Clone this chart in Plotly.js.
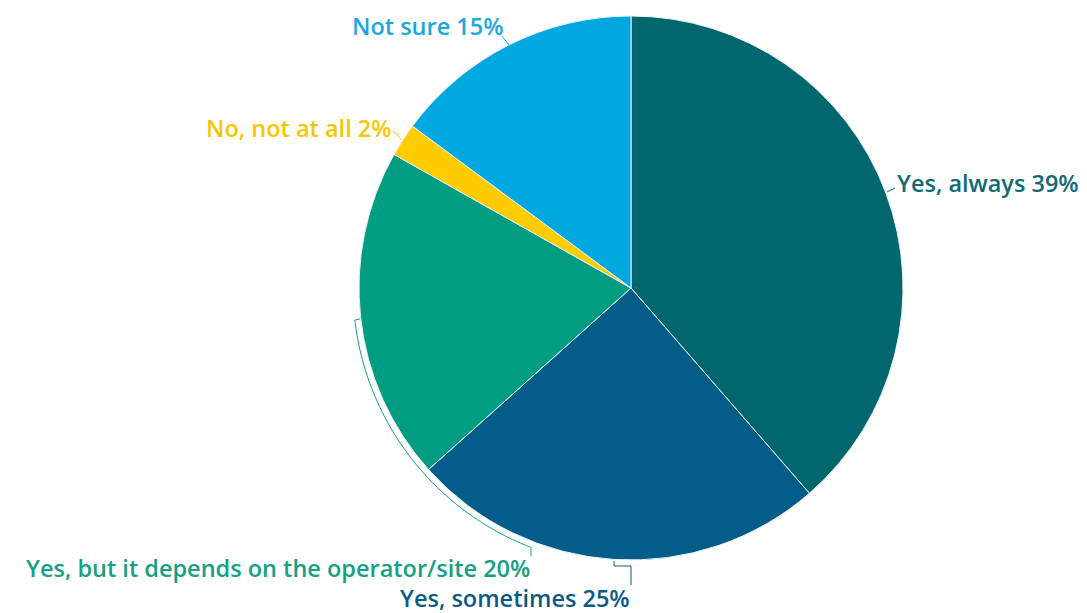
<!DOCTYPE html>
<html><head><meta charset="utf-8">
<script src="https://cdn.plot.ly/plotly-3.0.1.min.js"></script>
<style>html,body{margin:0;padding:0;background:#fff}#chart{width:1087px;height:613px}</style>
</head><body><div id="chart"></div>
<script>
const labels = ["Yes, always", "Yes, sometimes", "Yes, but it depends on the operator/site", "No, not at all", "Not sure"];
const values = [39, 25, 20, 2, 15];
const colors = ["#02666E", "#045D88", "#019D82", "#FFCC00", "#00A7E1"];
const textColors = ["#0F6A73", "#0B5A86", "#16A084", "#F7C600", "#1AA8E0"];

const W = 1087, H = 613;
const cx = 631, cy = 288, R = 272;
const px = x => x / W;
const py = y => 1 - y / H;

const trace = {
  type: "pie",
  labels: labels,
  values: values,
  sort: false,
  direction: "clockwise",
  rotation: 0,
  textinfo: "none",
  hoverinfo: "label+percent",
  marker: {colors: colors, line: {color: "#e8f4f4", width: 1}},
  domain: {x: [px(cx - R), px(cx + R)], y: [py(cy + R), py(cy - R)]},
  showlegend: false
};

const labelPos = [
  {x: 896, y: 183, anchor: "left"},
  {x: 631, y: 598, anchor: "right"},
  {x: 531, y: 568, anchor: "right"},
  {x: 393, y: 128, anchor: "right"},
  {x: 504, y: 26, anchor: "right"}
];
const annotations = labels.map((l, i) => ({
  text: l + " " + values[i] + "%",
  x: px(labelPos[i].x), y: py(labelPos[i].y),
  xref: "paper", yref: "paper",
  xanchor: labelPos[i].anchor, yanchor: "middle",
  showarrow: false, borderpad: 0,
  font: {family: "Open Sans, Noto Sans, sans-serif", size: 23.5, weight: 600, color: textColors[i]}
}));

function line(x0, y0, x1, y1, c) {
  return {type: "line", xref: "paper", yref: "paper", x0: px(x0), y0: py(y0), x1: px(x1), y1: py(y1),
    line: {color: c, width: 1}};
}
function arcPath(r, a0, a1, pre, post) {
  let pts = pre.slice();
  const n = 60;
  for (let k = 0; k <= n; k++) {
    const a = (a0 + (a1 - a0) * k / n) * Math.PI / 180;
    pts.push([cx + r * Math.cos(a), cy + r * Math.sin(a)]);
  }
  pts = pts.concat(post);
  return "M " + pts.map(p => px(p[0]).toFixed(5) + "," + py(p[1]).toFixed(5)).join(" L ");
}
const rb = R + 6;
const aStart = 180 - Math.asin(32 / rb) * 180 / Math.PI;
const endX = 531;
const a1 = Math.acos((endX - cx) / rb) * 180 / Math.PI;
const shapes = [
  line(887, 192, 895, 188, textColors[0]),
  line(502, 36, 509, 45, textColors[4]),
  line(393, 131, 402, 140, textColors[3]),
  {type: "path", xref: "paper", yref: "paper", line: {color: textColors[2], width: 1},
   path: arcPath(rb, aStart, a1, [[360, cy + 31]], [[endX, cy + rb * Math.sin(a1 * Math.PI / 180) + 9]])},
  {type: "path", xref: "paper", yref: "paper", line: {color: textColors[1], width: 1},
   path: "M " + px(614) + "," + py(561) + " L " + px(614) + "," + py(566) + " L " + px(631) + "," + py(566) + " L " + px(631) + "," + py(585)}
];

const layout = {
  width: W, height: H,
  margin: {l: 0, r: 0, t: 0, b: 0},
  paper_bgcolor: "#fff",
  annotations: annotations,
  shapes: shapes
};
Plotly.newPlot("chart", [trace], layout, {displayModeBar: false});
</script></body></html>
